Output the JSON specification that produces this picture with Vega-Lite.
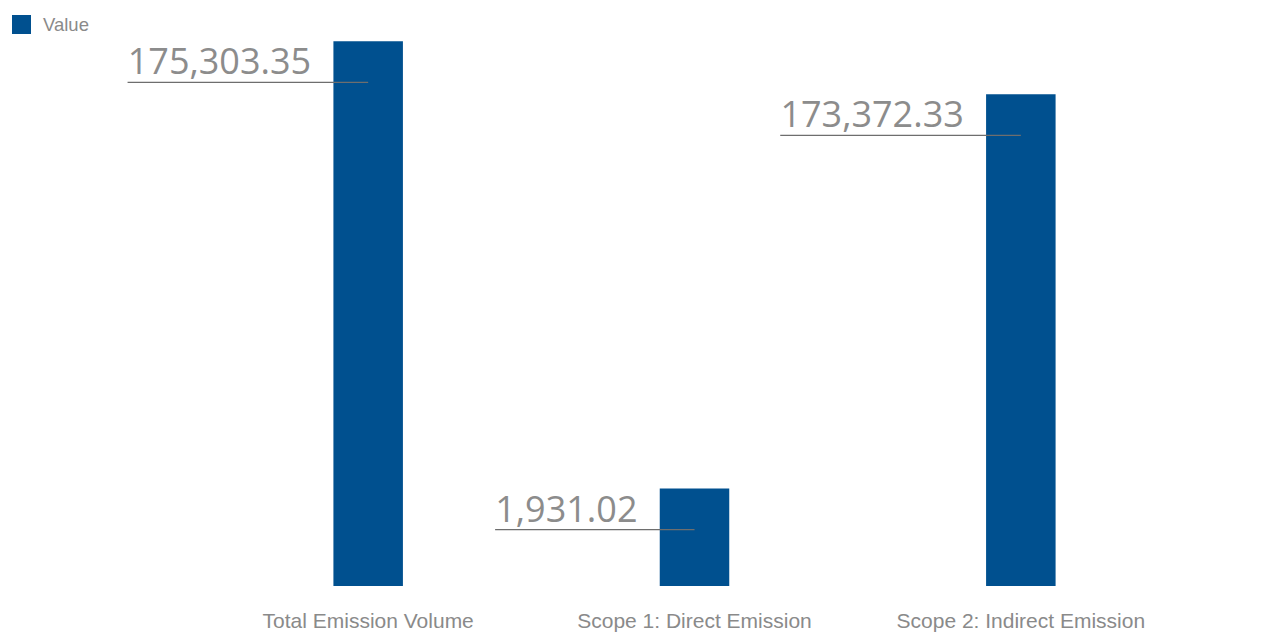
{
  "$schema": "https://vega.github.io/schema/vega-lite/v6.json",
  "width": 979,
  "height": 545,
  "autosize": {"type": "none"},
  "padding": {"left": 205, "top": 41, "right": 77, "bottom": 49},
  "background": "#ffffff",
  "config": {"view": {"stroke": null}},
  "data": {
    "values": [
      {"category": "Total Emission Volume", "value": 175303.35, "label": "175,303.35", "plotted": 544.7},
      {"category": "Scope 1: Direct Emission", "value": 1931.02, "label": "1,931.02", "plotted": 97.4},
      {"category": "Scope 2: Indirect Emission", "value": 173372.33, "label": "173,372.33", "plotted": 491.7}
    ]
  },
  "encoding": {
    "x": {
      "field": "category",
      "type": "nominal",
      "sort": null,
      "scale": {"paddingInner": 0.787, "paddingOuter": 0.3935},
      "axis": {
        "title": null,
        "domain": false,
        "ticks": false,
        "labelAngle": 0,
        "labelLimit": 0,
        "labelFont": "Liberation Sans",
        "labelFontSize": 21,
        "labelColor": "#8a8a8a",
        "labelPadding": 24
      }
    },
    "y": {
      "field": "plotted",
      "type": "quantitative",
      "scale": {"domain": [0, 545], "nice": false},
      "axis": null
    }
  },
  "layer": [
    {
      "mark": {"type": "bar"},
      "encoding": {
        "color": {
          "datum": "Value",
          "scale": {"range": ["#00508F"]},
          "legend": {
            "title": null,
            "orient": "none",
            "legendX": -193,
            "legendY": -26,
            "padding": 0,
            "symbolType": "square",
            "symbolSize": 361,
            "symbolStrokeWidth": 0,
            "labelFont": "Liberation Sans",
            "labelFontSize": 18.5,
            "labelColor": "#8a8a8a",
            "labelOffset": 12
          }
        }
      }
    },
    {
      "mark": {
        "type": "rule",
        "color": "#6e6e6e",
        "strokeWidth": 1.3,
        "yOffset": 41,
        "xOffset": {"expr": "-(57 + 20.6*length(replace(datum.label, regexp('[,.]','g'), '')) + 9.4*(length(datum.label) - length(replace(datum.label, regexp('[,.]','g'), ''))))"}
      },
      "encoding": {
        "x2": {"field": "category"}
      }
    },
    {
      "mark": {
        "type": "text",
        "align": "right",
        "baseline": "alphabetic",
        "dx": -57,
        "dy": 33,
        "font": "Open Sans",
        "fontSize": 36,
        "color": "#8c8c8c"
      },
      "encoding": {
        "text": {"field": "label"}
      }
    }
  ]
}
